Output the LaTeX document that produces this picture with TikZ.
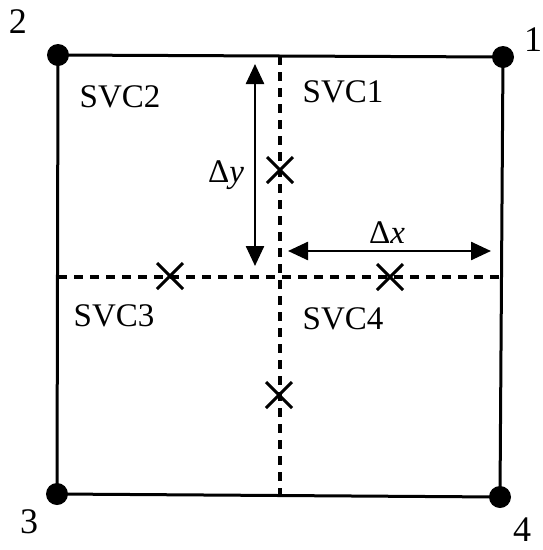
\documentclass[tikz,border=0pt]{standalone}
\usepackage{fontspec}
\setmainfont{Liberation Serif}
\usetikzlibrary{arrows.meta,calc}
\begin{document}
\begin{tikzpicture}[x=1pt,y=-1pt,
  frame/.style={line width=3pt},
  grid/.style={line width=3.5pt,dash pattern=on 9pt off 7pt},
  dot/.style={circle,fill=black,inner sep=0pt,minimum size=22pt},
  lbl/.style={font=\fontsize{33}{33}\selectfont,inner sep=0pt},
  num/.style={font=\fontsize{36}{36}\selectfont,inner sep=0pt},
  cross/.style={line width=3pt},
  dim/.style={line width=2.5pt,{Triangle[length=20pt,width=18pt]}-{Triangle[length=20pt,width=18pt]}}]
\useasboundingbox (0,0) rectangle (542,550);
\fill[white] (0,0) rectangle (542,550);
% corners
\coordinate (c1) at (503,57);
\coordinate (c2) at (58,55);
\coordinate (c3) at (57,494);
\coordinate (c4) at (500,497);
% dashed grid
\coordinate (vt) at (280,56);
\coordinate (vb) at (280,495);
\coordinate (hl) at (58,277);
\coordinate (hr) at (501,277);
\draw[grid] (vt) -- (vb);
\draw[grid] (hl) -- (hr);
\draw[frame] (c2) -- (c1) -- (c4) -- (c3) -- cycle;
\node[dot] (d1) at (c1) {};
\node[dot] (d2) at (c2) {};
\node[dot] (d3) at (c3) {};
\node[dot] (d4) at (c4) {};
\node[num] (n2) at (18,22) {2};
\node[num] (n1) at (533,40) {1};
\node[num] (n3) at (29,522) {3};
\node[num] (n4) at (522,530) {4};
% crosses
\coordinate (xa1) at (280,170);
\coordinate (xa4) at (390,277);
\coordinate (xa3) at (170,276);
\coordinate (xa5) at (279,395);
\foreach \n in {xa1,xa4,xa3,xa5}{
  \draw[cross] ($(\n)+(-13,-13)$) -- ($(\n)+(13,13)$);
  \draw[cross] ($(\n)+(-13,13)$) -- ($(\n)+(13,-13)$);
}
% labels
\node[lbl] (s2) at (120,97) {SVC2};
\node[lbl] (s1) at (343,92) {SVC1};
\node[lbl] (s3) at (114,316) {SVC3};
\node[lbl] (s4) at (343,319) {SVC4};
% dimension arrows
\coordinate (ya) at (255,64);
\coordinate (yb) at (255,266);
\draw[dim] (ya) -- (yb);
\node[lbl] (dy) at (226,175) {Δ\textit{y}};
\coordinate (xa) at (288,251);
\coordinate (xb) at (491,251);
\draw[dim] (xa) -- (xb);
\node[lbl] (dx) at (387,233) {Δ\textit{x}};
\end{tikzpicture}
\end{document}
